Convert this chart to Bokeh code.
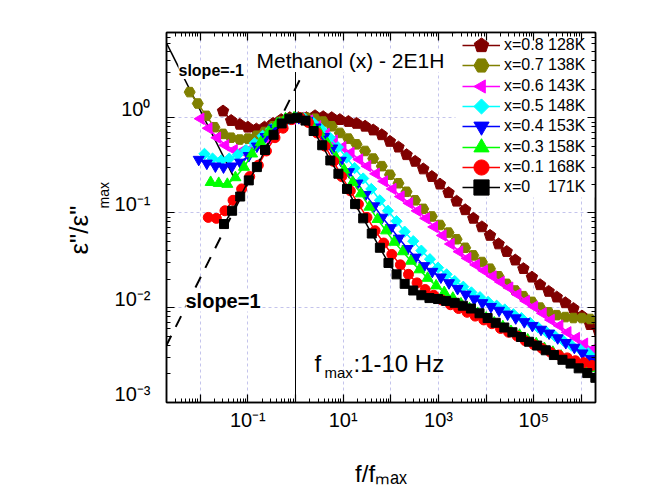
import numpy as np
from bokeh.plotting import figure
from bokeh.models import (Range1d, FixedTicker, LogAxis, CustomJSTickFormatter, Legend,
                          LegendItem, Label, BoxAnnotation, ColumnDataSource, Title)
from bokeh.embed import file_html
from bokeh.resources import INLINE

# ---------------- data (log10 values) ----------------
labels = ["x=0.8 128K", "x=0.7 138K", "x=0.6 143K", "x=0.5 148K",
          "x=0.4 153K", "x=0.3 158K", "x=0.1 168K", "x=0\u00a0\u00a0\u00a0\u00a0171K"]
colors = ["#800000", "#808000", "#FF00FF", "#00FFFF", "#0000FF", "#00FF00", "#FF0000", "#000000"]

logf_08 = [-1.52, -1.35, -1.17, -1.00, -0.82, -0.65, -0.47, -0.30, -0.12, 0.06, 0.23, 0.41, 0.58, 0.76, 0.93,
           1.11, 1.28, 1.46, 1.63, 1.81, 1.98, 2.16, 2.33, 2.51, 2.68, 2.86, 3.03, 3.21, 3.38, 3.56, 3.73, 3.91,
           4.08, 4.26, 4.43, 4.61, 4.78, 4.96, 5.13, 5.31, 5.48, 5.66, 5.83, 6.01, 6.18, 6.36]
loge_08 = [0.07, -0.03, -0.07, -0.10, -0.12, -0.10, -0.06, -0.02, 0.00, 0.00, 0.00, 0.02, 0.01, 0.00, -0.02,
           -0.04, -0.06, -0.09, -0.13, -0.18, -0.25, -0.31, -0.39, -0.46, -0.54, -0.62, -0.70, -0.79, -0.88, -0.97,
           -1.06, -1.15, -1.24, -1.33, -1.41, -1.50, -1.59, -1.68, -1.76, -1.83, -1.89, -1.95, -2.01, -2.09, -2.18, -2.25]

logf_07 = [-2.22, -2.05, -1.87, -1.70, -1.52, -1.35, -1.17, -1.00, -0.82, -0.65, -0.47, -0.30, -0.12, 0.06, 0.23,
           0.41, 0.58, 0.76, 0.93, 1.11, 1.28, 1.46, 1.63, 1.81, 1.98, 2.16, 2.33, 2.51, 2.68, 2.86, 3.03, 3.21,
           3.38, 3.56, 3.73, 3.91, 4.08, 4.26, 4.43, 4.61, 4.78, 4.96, 5.13, 5.31, 5.48, 5.66, 5.83, 6.01, 6.18, 6.36]
loge_07 = [0.27, 0.15, 0.02, -0.10, -0.17, -0.21, -0.23, -0.22, -0.19, -0.15, -0.09, -0.04, -0.01, 0.00, 0.00,
           -0.01, -0.04, -0.09, -0.16, -0.22, -0.28, -0.35, -0.43, -0.51, -0.60, -0.69, -0.78, -0.87, -0.96, -1.04,
           -1.13, -1.21, -1.28, -1.37, -1.45, -1.52, -1.59, -1.67, -1.75, -1.82, -1.88, -1.94, -2.00, -2.05, -2.08,
           -2.10, -2.11, -2.11, -2.12, -2.14]

logf_06 = [-1.99, -1.82, -1.64, -1.47, -1.29, -1.12, -0.94, -0.77, -0.59, -0.42, -0.24, -0.07, 0.11, 0.29, 0.46,
           0.64, 0.81, 0.99, 1.16, 1.34, 1.51, 1.69, 1.86, 2.04, 2.21, 2.39, 2.56, 2.74, 2.91, 3.09, 3.26, 3.44,
           3.61, 3.79, 3.96, 4.14, 4.31, 4.49, 4.66, 4.84, 5.01, 5.19, 5.36, 5.54, 5.71, 5.89, 6.06, 6.24, 6.41]
loge_06 = [-0.01, -0.11, -0.21, -0.29, -0.34, -0.35, -0.33, -0.28, -0.22, -0.15, -0.07, -0.01, 0.00, -0.03, -0.09,
           -0.17, -0.24, -0.31, -0.37, -0.44, -0.51, -0.59, -0.67, -0.75, -0.83, -0.90, -0.98, -1.06, -1.15, -1.24,
           -1.33, -1.41, -1.48, -1.55, -1.61, -1.67, -1.73, -1.79, -1.86, -1.93, -1.99, -2.06, -2.13, -2.19, -2.26,
           -2.32, -2.38, -2.44, -2.50]

logf_05 = [-1.91, -1.74, -1.56, -1.39, -1.21, -1.04, -0.86, -0.69, -0.51, -0.34, -0.16, 0.02, 0.19, 0.37, 0.54,
           0.72, 0.89, 1.07, 1.24, 1.42, 1.59, 1.77, 1.94, 2.12, 2.29, 2.47, 2.64, 2.82, 2.99, 3.17, 3.34, 3.52,
           3.69, 3.87, 4.04, 4.22, 4.39, 4.57, 4.74, 4.92, 5.09, 5.27, 5.44, 5.62, 5.79, 5.97, 6.14, 6.32]
loge_05 = [-0.38, -0.43, -0.45, -0.43, -0.39, -0.34, -0.27, -0.19, -0.12, -0.06, -0.02, 0.00, -0.01, -0.05, -0.12,
           -0.21, -0.31, -0.42, -0.53, -0.64, -0.75, -0.87, -0.98, -1.09, -1.20, -1.30, -1.40, -1.49, -1.58, -1.65,
           -1.72, -1.78, -1.84, -1.89, -1.94, -1.98, -2.02, -2.07, -2.11, -2.16, -2.21, -2.26, -2.30, -2.35, -2.40,
           -2.44, -2.48, -2.52]

logf_04 = [-2.03, -1.86, -1.68, -1.51, -1.33, -1.16, -0.98, -0.81, -0.63, -0.46, -0.28, -0.11, 0.07, 0.25, 0.42,
           0.60, 0.77, 0.95, 1.12, 1.30, 1.47, 1.65, 1.82, 2.00, 2.17, 2.35, 2.52, 2.70, 2.87, 3.05, 3.22, 3.40,
           3.57, 3.75, 3.92, 4.10, 4.27, 4.45, 4.62, 4.80, 4.97, 5.15, 5.32, 5.50, 5.67, 5.85, 6.02, 6.20, 6.37]
loge_04 = [-0.44, -0.48, -0.51, -0.52, -0.51, -0.47, -0.40, -0.30, -0.20, -0.11, -0.05, -0.01, 0.00, -0.03, -0.10,
           -0.20, -0.32, -0.45, -0.57, -0.69, -0.81, -0.93, -1.05, -1.16, -1.27, -1.38, -1.47, -1.56, -1.62, -1.68,
           -1.74, -1.80, -1.86, -1.91, -1.95, -1.99, -2.03, -2.07, -2.11, -2.15, -2.19, -2.23, -2.27, -2.32, -2.37,
           -2.42, -2.48, -2.54, -2.58]

logf_03 = [-1.78, -1.61, -1.43, -1.26, -1.08, -0.91, -0.73, -0.56, -0.38, -0.21, -0.03, 0.15, 0.32, 0.50, 0.67,
           0.85, 1.02, 1.20, 1.37, 1.55, 1.72, 1.90, 2.07, 2.25, 2.42, 2.60, 2.77, 2.95, 3.12, 3.30, 3.47, 3.65,
           3.82, 4.00, 4.17, 4.35, 4.52, 4.70, 4.87, 5.05, 5.22, 5.40, 5.57, 5.75, 5.92, 6.10, 6.27]
loge_03 = [-0.68, -0.69, -0.70, -0.63, -0.52, -0.38, -0.26, -0.15, -0.06, -0.01, 0.00, -0.01, -0.06, -0.15, -0.27,
           -0.42, -0.55, -0.68, -0.80, -0.94, -1.07, -1.19, -1.31, -1.41, -1.51, -1.60, -1.69, -1.77, -1.84, -1.90,
           -1.96, -2.01, -2.06, -2.11, -2.16, -2.20, -2.25, -2.29, -2.34, -2.38, -2.43, -2.47, -2.51, -2.55, -2.58,
           -2.61, -2.64]

logf_01 = [-1.83, -1.66, -1.48, -1.31, -1.13, -0.96, -0.78, -0.61, -0.43, -0.26, -0.08, 0.10, 0.27, 0.45, 0.62,
           0.80, 0.97, 1.15, 1.32, 1.50, 1.67, 1.85, 2.02, 2.20, 2.37, 2.55, 2.72, 2.90, 3.07, 3.25, 3.42, 3.60,
           3.77, 3.95, 4.12, 4.30, 4.47, 4.65, 4.82, 5.00, 5.17, 5.35, 5.52, 5.70, 5.87, 6.05, 6.22, 6.40]
loge_01 = [-1.05, -1.06, -0.98, -0.87, -0.75, -0.62, -0.50, -0.35, -0.21, -0.11, -0.02, 0.00, -0.05, -0.16, -0.30,
           -0.46, -0.62, -0.77, -0.91, -1.05, -1.19, -1.32, -1.44, -1.55, -1.65, -1.74, -1.81, -1.87, -1.92, -1.97,
           -2.01, -2.05, -2.09, -2.13, -2.17, -2.22, -2.26, -2.30, -2.35, -2.39, -2.43, -2.47, -2.50, -2.53, -2.56,
           -2.58, -2.61, -2.63]

logf_00 = [-1.50, -1.33, -1.16, -0.98, -0.81, -0.64, -0.46, -0.29, -0.13, 0.04, 0.21, 0.38, 0.56, 0.73, 0.90,
           1.08, 1.25, 1.42, 1.60, 1.77, 1.95, 2.12, 2.29, 2.47, 2.64, 2.81, 2.99, 3.16, 3.34, 3.51, 3.68, 3.86,
           4.03, 4.20, 4.38, 4.55, 4.73, 4.90, 5.07, 5.25, 5.42, 5.60, 5.77, 5.94, 6.12, 6.29]
loge_00 = [-1.12, -0.98, -0.83, -0.66, -0.52, -0.34, -0.18, -0.06, -0.01, 0.00, -0.03, -0.14, -0.29, -0.45, -0.59,
           -0.75, -0.91, -1.06, -1.22, -1.37, -1.53, -1.65, -1.75, -1.82, -1.87, -1.90, -1.91, -1.93, -1.95, -1.98,
           -2.01, -2.06, -2.11, -2.16, -2.21, -2.26, -2.31, -2.36, -2.40, -2.45, -2.50, -2.55, -2.59, -2.64, -2.69,
           -2.74]

# guide lines (log10 values)
slope_pos_logf = [-2.72, 0.21]
slope_pos_loge = [-2.41, 0.52]
slope_neg_logf = [-2.70, -1.30]
slope_neg_loge = [0.78, -0.62]
vline_logf = [0.0, 0.0]
vline_loge = [-3.0, 0.51]

# (label, logf, loge, colour, marker kind, polygon sides, polygon angle, size)
series = [
    (labels[0], logf_08, loge_08, colors[0], "ngon", 5, 0.0, 6.0),
    (labels[1], logf_07, loge_07, colors[1], "hex", 0, 0.0, 11),
    (labels[2], logf_06, loge_06, colors[2], "ngon", 3, np.pi / 2, 6.5),
    (labels[3], logf_05, loge_05, colors[3], "ngon", 4, 0.0, 5.6),
    (labels[4], logf_04, loge_04, colors[4], "inverted_triangle", 0, 0.0, 11),
    (labels[5], logf_03, loge_03, colors[5], "triangle", 0, 0.0, 11),
    (labels[6], logf_01, loge_01, colors[6], "circle", 0, 0.0, 10),
    (labels[7], logf_00, loge_00, colors[7], "square", 0, 0.0, 9),
]
fallback = {5: ("hex", 0.0, 11), 3: ("triangle", np.pi / 2, 11), 4: ("square", np.pi / 4, 9)}

# ---------------- figure ----------------
FONT = "Liberation Sans"
p = figure(width=653, height=490, x_axis_type="log", y_axis_type="log",
           x_range=Range1d(10 ** -2.706, 10 ** 6.293), y_range=Range1d(1e-3, 10 ** 0.898),
           output_backend="svg", toolbar_location=None,
           min_border_left=166, min_border_right=58, min_border_top=32, min_border_bottom=88)
p.title.visible = False
p.background_fill_color = "white"
p.border_fill_color = "white"
p.outline_line_color = "black"
p.outline_line_width = 1.5

xmaj = [10.0 ** e for e in range(-3, 8)]
xmin = [k * 10.0 ** e for e in range(-3, 8) for k in range(2, 10)]
ymaj = [10.0 ** e for e in range(-3, 2)]
ymin = [k * 10.0 ** e for e in range(-3, 2) for k in range(2, 10)]

sup_js = """
const sup = {"-": "\u207b", "0": "\u2070", "1": "\u00b9", "2": "\u00b2", "3": "\u00b3",
             "4": "\u2074", "5": "\u2075", "6": "\u2076", "7": "\u2077", "8": "\u2078", "9": "\u2079"};
const e = Math.round(Math.log10(tick));
"""
fmt_x = CustomJSTickFormatter(code=sup_js + """
if (Math.abs(e) % 2 == 0) { return ""; }
return "10" + String(e).split("").map(c => sup[c]).join("");
""")
# the second (blank) line lifts each label a little above its tick, as in the original
fmt_y = CustomJSTickFormatter(code=sup_js + """
return "10" + String(e).split("").map(c => sup[c]).join("") + "\\n\u00a0";
""")
fmt_none = CustomJSTickFormatter(code="return '';")


def style_axis(ax):
    ax.axis_line_color = "black"
    ax.axis_line_width = 1.5
    ax.major_tick_in = 8
    ax.major_tick_out = 0
    ax.minor_tick_in = 4
    ax.minor_tick_out = 0
    ax.major_tick_line_color = "black"
    ax.minor_tick_line_color = "black"
    ax.major_tick_line_width = 1.2
    ax.minor_tick_line_width = 1
    ax.major_label_text_font = FONT
    ax.major_label_text_font_size = "20px"
    ax.major_label_text_color = "black"


xt = FixedTicker(ticks=xmaj, minor_ticks=xmin)
yt = FixedTicker(ticks=ymaj, minor_ticks=ymin)

p.xaxis[0].ticker = xt
p.xaxis[0].formatter = fmt_x
p.xaxis[0].major_label_standoff = 6
style_axis(p.xaxis[0])
p.xaxis[0].axis_label = "f/f\u2098\u2090\u2093"
p.xaxis[0].axis_label_text_font = FONT
p.xaxis[0].axis_label_text_font_size = "24px"
p.xaxis[0].axis_label_text_font_style = "normal"
p.xaxis[0].axis_label_text_color = "black"
p.xaxis[0].axis_label_standoff = 26

p.yaxis[0].ticker = yt
p.yaxis[0].formatter = fmt_y
p.yaxis[0].major_label_standoff = 16
style_axis(p.yaxis[0])
p.yaxis[0].major_label_text_line_height = 0.8

top_ax = LogAxis(ticker=FixedTicker(ticks=xmaj, minor_ticks=xmin), formatter=fmt_none)
style_axis(top_ax)
p.add_layout(top_ax, "above")
right_ax = LogAxis(ticker=FixedTicker(ticks=ymaj, minor_ticks=ymin), formatter=fmt_none)
style_axis(right_ax)
p.add_layout(right_ax, "right")

for g in (p.xgrid[0], p.ygrid[0]):
    g.grid_line_color = "#c4c4ec"
    g.grid_line_dash = "3 3"
    g.grid_line_width = 1
p.xgrid[0].ticker = xt
p.ygrid[0].ticker = yt

# white box behind the legend (hides grid there)
p.add_layout(BoxAnnotation(left=289, right=428, top=369, bottom=205,
                           left_units="screen", right_units="screen",
                           top_units="screen", bottom_units="screen",
                           fill_color="white", fill_alpha=1.0, line_color=None, level="underlay"))

# guide lines
p.line([10 ** v for v in vline_logf], [10 ** v for v in vline_loge], line_color="black", line_width=1)
p.line([10 ** v for v in slope_pos_logf], [10 ** v for v in slope_pos_loge],
       line_color="black", line_width=2, line_dash="12 10")
p.line([10 ** v for v in slope_neg_logf], [10 ** v for v in slope_neg_loge],
       line_color="black", line_width=1.5)

legend_entries = []
for label, lf, le, color, marker, nsides, ang, size in series:
    src = ColumnDataSource(dict(x=[10 ** v for v in lf], y=[10 ** v for v in le]))
    lr = p.line("x", "y", source=src, line_color=color, line_width=1.5)
    if marker == "ngon":
        try:
            mr = p.ngon(x="x", y="y", source=src, radius=size, radius_units="screen", n=nsides,
                        angle=ang, fill_color=color, line_color=color)
        except Exception:
            fm, fa, fs = fallback[nsides]
            mr = p.scatter("x", "y", source=src, marker=fm, size=fs, angle=fa,
                           fill_color=color, line_color=color)
    else:
        mr = p.scatter("x", "y", source=src, marker=marker, size=size,
                       fill_color=color, line_color=color)
    legend_entries.append((label, [lr, mr]))

# one single-entry legend per row, rows 20.3 px apart
for i, (label, rends) in enumerate(legend_entries):
    lg = Legend(items=[LegendItem(label=label, renderers=rends)],
                location=(296, 338 - 20.3 * i), orientation="vertical",
                glyph_width=38, glyph_height=38, label_height=20, spacing=0,
                padding=0, margin=0, label_standoff=4,
                label_text_font=FONT, label_text_font_size="16px", label_text_color="black",
                background_fill_alpha=0.0, border_line_color=None)
    p.add_layout(lg)


def add_label(x, y, text, size, bold=False, bg=False):
    lab = Label(x=x, y=y, x_units="screen", y_units="screen", text=text,
                text_font=FONT, text_font_size=f"{size}px",
                text_font_style="bold" if bold else "normal", text_color="black",
                text_baseline="alphabetic", text_align="left")
    if bg:
        lab.background_fill_color = "white"
    p.add_layout(lab)


add_label(90, 342, "Methanol (x) - 2E1H", 21, bg=True)
add_label(12, 332, "slope=-1", 16, bold=True, bg=True)
add_label(19, 102, "slope=1", 20, bold=True, bg=True)
add_label(148, 39, "f", 24)
add_label(158, 30, "max", 15)
add_label(187, 39, ":1-10 Hz", 24)


# y axis title built from side-panel titles (main text + subscript)
def side_title(text, size, offset, standoff):
    return Title(text=text, align="left", offset=offset, standoff=standoff,
                 text_font=FONT, text_font_size=f"{size}px", text_font_style="normal",
                 text_color="black", vertical_align="bottom")


p.add_layout(side_title("max", 14, 194, 0), "left")
p.add_layout(side_title("\u03b5\"/\u03b5\"", 26, 148, 0), "left")

open("out.html", "w").write(file_html(p, INLINE))
